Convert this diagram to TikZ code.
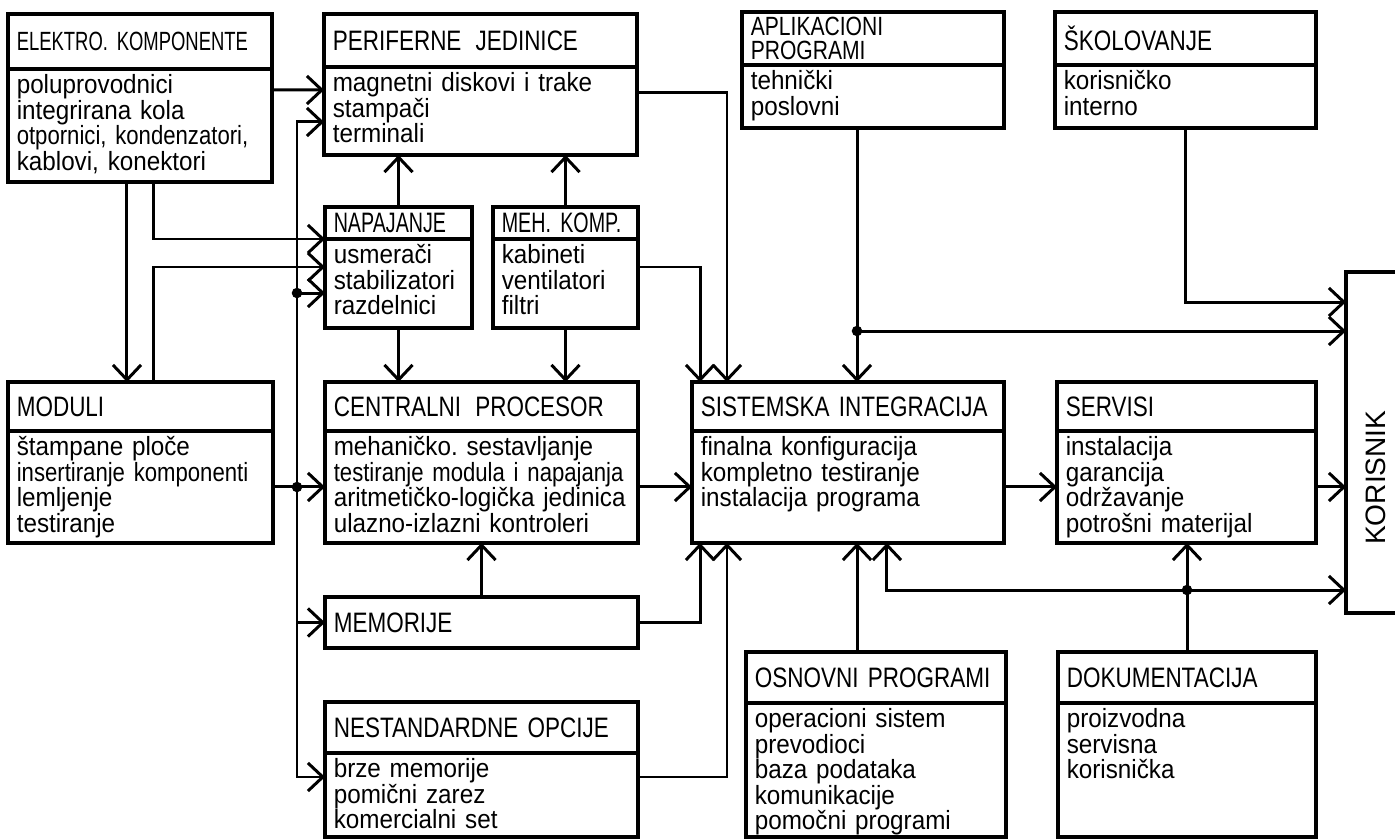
\documentclass[tikz,border=0pt]{standalone}
\usepackage{fontspec}
\setmainfont{Liberation Sans}
\newfontfamily\glfont{Liberation Sans}[FakeStretch=0.80]
\newfontfamily\uzfont{Liberation Sans}[FakeStretch=0.70]
\newfontfamily\stfont{Liberation Sans}[FakeStretch=0.92]
\newfontfamily\stuzfont{Liberation Sans}[FakeStretch=0.84]
\usepackage{tikz}
\usetikzlibrary{arrows.meta}
\hyphenpenalty=10000
\exhyphenpenalty=10000

\begin{document}
\begin{tikzpicture}[
    x=0.02cm, y=-0.02cm,
    glava/.style={draw, line width=2pt, outer sep=0pt, anchor=north west, align=left, inner xsep=5pt, inner ysep=2pt, font=\glfont\fontsize{16}{14}\selectfont},
    uska/.style={font=\uzfont\fontsize{16}{14}\selectfont},
    stavke/.style={draw, line width=2pt, outer sep=0pt, anchor=north west, align=left, inner xsep=5pt, inner ysep=3pt, text height=11pt, font=\stfont\fontsize{15}{14.5}\selectfont},
    arr/.style={-{Straight Barb[length=8.5pt,width=16pt]}, line width=1.7pt}
]
\useasboundingbox (0,0) rectangle (1395,839);

% gornji red
\node[glava, text width=4.93cm, minimum height=1.10cm, font=\uzfont\fontsize{15}{14}\selectfont] (elk-n) at (8,14) {ELEKTRO. KOMPONENTE};
\node[stavke, text width=4.93cm, text depth=47.3pt] (elk) at (elk-n.south west) {poluprovodnici\\integrirana kola\\{\stuzfont otpornici, kondenzatori,}\\kablovi, konektori};
\node[glava, text width=5.91cm, minimum height=1.06cm] (per-n) at (324,14) {PERIFERNE\enspace JEDINICE};
\node[stavke, text width=5.91cm, text depth=33.1pt] (per) at (per-n.south west) {magnetni diskovi i trake\\stampači\\terminali};
\node[glava, text width=4.89cm, minimum height=1.06cm, font=\glfont\fontsize{15}{13.5}\selectfont] (apl-n) at (742,12) {APLIKACIONI\\PROGRAMI};
\node[stavke, text width=4.89cm, text depth=18.8pt] (apl) at (apl-n.south west) {tehnički\\poslovni};
\node[glava, text width=4.87cm, minimum height=1.06cm] (sko-n) at (1055,12) {ŠKOLOVANJE};
\node[stavke, text width=4.87cm, text depth=18.8pt] (sko) at (sko-n.south west) {korisničko\\interno};
\node[glava, uska, text width=2.59cm, minimum height=0.64cm] (nap-n) at (325,207) {NAPAJANJE};
\node[stavke, text width=2.59cm, text depth=33.6pt] (nap) at (nap-n.south west) {usmerači\\stabilizatori\\razdelnici};
\node[glava, uska, text width=2.55cm, minimum height=0.64cm] (meh-n) at (493,207) {MEH. KOMP.};
\node[stavke, text width=2.55cm, text depth=33.6pt] (meh) at (meh-n.south west) {kabineti\\ventilatori\\filtri};

% srednji red
\node[glava, text width=4.95cm, minimum height=0.98cm] (mod-n) at (8,382) {MODULI};
\node[stavke, text width=4.95cm, text depth=46.7pt] (mod) at (mod-n.south west) {štampane ploče\\{\stuzfont insertiranje komponenti}\\lemljenje\\testiranje};
\node[glava, text width=5.91cm, minimum height=0.98cm] (cpu-n) at (325,382) {CENTRALNI\enspace PROCESOR};
\node[stavke, text width=5.91cm, text depth=46.7pt] (cpu) at (cpu-n.south west) {mehaničko.\ sestavljanje\\{\stuzfont testiranje modula i napajanja}\\aritmetičko-logička jedinica\\ulazno-izlazni kontroleri};
\node[glava, text width=5.89cm, minimum height=0.98cm] (sis-n) at (692,382) {SISTEMSKA INTEGRACIJA};
\node[stavke, text width=5.89cm, text depth=46.7pt] (sis) at (sis-n.south west) {finalna konfiguracija\\kompletno testiranje\\instalacija programa};
\node[glava, text width=4.83cm, minimum height=0.98cm] (ser-n) at (1057,382) {SERVISI};
\node[stavke, text width=4.83cm, text depth=46.7pt] (ser) at (ser-n.south west) {instalacija\\garancija\\održavanje\\potrošni materijal};
\node[draw, line width=2pt, outer sep=0pt, rotate=90, minimum width=6.82cm, minimum height=1.2cm, font=\fontsize{16}{16}\selectfont] (kor) at (1376,442.5) {KORISNIK\hspace*{40pt}};

% donji red
\node[glava, text width=5.91cm, minimum height=1.02cm] (mem) at (325,597) {MEMORIJE};
\node[glava, text width=5.91cm, minimum height=1.02cm] (nes-n) at (325,702) {NESTANDARDNE OPCIJE};
\node[stavke, text width=5.91cm, text depth=30.8pt] (nes) at (nes-n.south west) {brze memorije\\pomični zarez\\komercialni set};
\node[glava, text width=4.85cm, minimum height=1.02cm] (osn-n) at (746,652) {OSNOVNI PROGRAMI};
\node[stavke, text width=4.85cm, text depth=59.2pt] (osn) at (osn-n.south west) {operacioni sistem\\prevodioci\\baza podataka\\komunikacije\\pomočni programi};
\node[glava, text width=4.81cm, minimum height=1.02cm] (dok-n) at (1058,652) {DOKUMENTACIJA};
\node[stavke, text width=4.81cm, text depth=59.2pt] (dok) at (dok-n.south west) {proizvodna\\servisna\\korisnička};

% cvorista
\coordinate (busj) at (297,487);
\coordinate (busn) at (297,293);
\coordinate (aplj) at (857,331);
\coordinate (dokj) at (1187,590);

% veze
\draw[arr] ([xshift=2.38cm]elk.south west) -- ([xshift=2.38cm]mod-n.north west);
\draw[arr] ([xshift=2.92cm]elk.south west) |- (nap-n.south west);
\draw[arr] ([xshift=2.92cm]mod-n.north west) |- ([yshift=-0.56cm]nap-n.south west);
\draw[arr] ([yshift=-0.42cm]elk-n.south east) -- ([yshift=-0.46cm]per-n.south west);
\draw[arr] (busj) |- ([yshift=-1.10cm]per-n.south west);
\draw[arr] (busn) -- (busn -| nap.west);
\draw[arr] (busj) |- (mem);
\draw[arr] (busj) |- ([yshift=-0.48cm]nes-n.south west);
\draw[arr] (mod) -- (cpu);
\draw[arr] (nap-n) -- (nap-n |- per.south);
\draw[arr] (meh-n) -- (meh-n |- per.south);
\draw[arr] (nap) -- (nap |- cpu-n.north);
\draw[arr] (meh) -- (meh |- cpu-n.north);
\draw[arr] (mem) -- (mem |- cpu.south);
\draw[arr] ([yshift=-0.56cm]meh-n.south east) -| ([xshift=0.16cm]sis-n.north west);
\draw[arr] ([yshift=-0.52cm]per-n.south east) -| ([xshift=0.70cm]sis-n.north west);
\draw[arr] (mem) -| ([xshift=0.16cm]sis.south west);
\draw[arr] ([yshift=-0.48cm]nes-n.south east) -| ([xshift=0.70cm]sis.south west);
\draw[arr] (cpu) -- (sis);
\draw[arr] (apl.south -| aplj) -- (aplj |- sis-n.north);
\draw[arr] (aplj) -- (aplj -| kor.north);
\draw[arr] (sko) |- ([yshift=-0.6cm]kor.north east);
\draw[arr] (sis) -- (ser);
\draw[arr] (ser) -- (ser -| kor.north);
\draw[arr] (dok-n) -- (dok-n |- ser.south);
\draw[arr] (dokj) -| ([xshift=3.90cm]sis.south west);
\draw[arr] (dokj) -- (dokj -| kor.north);
\draw[arr] (osn-n.north -| aplj) -- (aplj |- sis.south);

\foreach \c in {busj, busn, aplj, dokj}
    \fill (\c) circle (3pt);
\end{tikzpicture}
\end{document}
